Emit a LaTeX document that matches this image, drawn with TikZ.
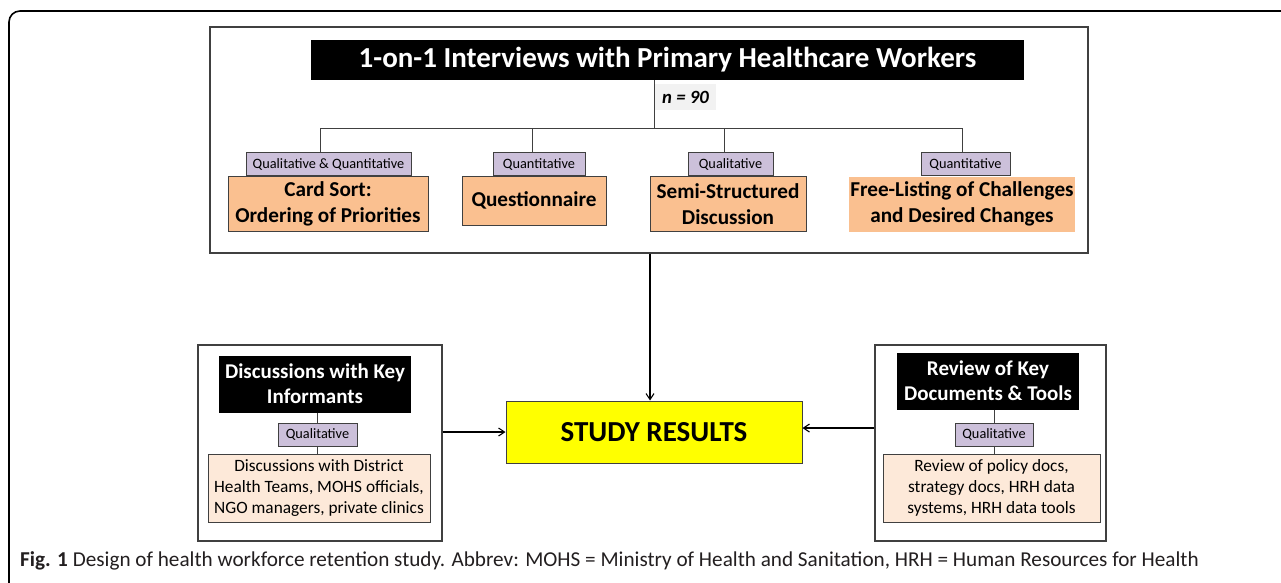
\documentclass[tikz,border=0pt]{standalone}
\usepackage{fontspec}
\setmainfont{Carlito}
\usetikzlibrary{arrows.meta}
\definecolor{tagfill}{HTML}{CCC0DA}
\definecolor{orangefill}{HTML}{FAC090}
\definecolor{peachfill}{HTML}{FDE9D9}
\definecolor{resultfill}{HTML}{FFFF00}
\definecolor{linegray}{HTML}{404040}
\definecolor{nfill}{HTML}{F2F2F2}
\definecolor{captext}{HTML}{231F20}
\newcommand{\fsz}[1]{\fontsize{#1pt}{1.2\dimexpr#1pt\relax}\selectfont}
\tikzset{
  x=1pt, y=-1pt,
  frame/.style={draw=linegray, line width=1.1pt, fill=white},
  headbox/.style={fill=black, text=white, font=\fsz{21}\bfseries, align=center, inner sep=0pt},
  tagbox/.style={draw=linegray, line width=0.9pt, fill=tagfill, font=\fsz{14.3}, inner sep=0pt, minimum height=23pt},
  methodbox/.style={draw=linegray, line width=0.9pt, fill=orangefill, font=\fsz{21.2}\bfseries, align=center, inner sep=0pt},
  notebox/.style={draw=linegray, line width=0.9pt, fill=peachfill, font=\fsz{17.3}, align=center, inner sep=0pt},
  link/.style={draw=linegray, line width=0.9pt},
  feed/.style={draw=black, line width=1.1pt, -{Straight Barb[length=6pt,width=8pt]}},
}
\begin{document}
\begin{tikzpicture}
\useasboundingbox (0,0) rectangle (1281,582);
\fill[white] (0,0) rectangle (1281,582);

% page frame, open to the right and below
\draw[line width=1.6pt, rounded corners=11pt] (9,600) -- (9,11) -- (1300,11);

% ---- interview block ----
\node[frame, minimum width=878pt, minimum height=226pt, inner sep=0pt] (top) at (649,140) {};
\node[headbox, minimum width=713pt, minimum height=40pt, font=\fsz{29}\bfseries] (title) at (667.5,60) {1-on-1 Interviews with Primary Healthcare Workers};
\coordinate (hub) at (654,128);
\node[fill=nfill, minimum width=61pt, minimum height=26pt, inner sep=0pt, font=\fsz{18.7}\bfseries\itshape] (n) at (685.5,97) {n = 90};

\node[tagbox, minimum width=165pt] (tag1) at (328.5,164) {Qualitative \& Quantitative};
\node[tagbox, minimum width=92pt]  (tag2) at (539,164) {Quantitative};
\node[tagbox, minimum width=85pt]  (tag3) at (730.5,164) {Qualitative};
\node[tagbox, minimum width=89pt]  (tag4) at (965.5,164) {Quantitative};

\node[methodbox, minimum width=200pt, minimum height=55pt] (m1) at (328,204) {Card Sort:\\Ordering of Priorities};
\node[methodbox, minimum width=144pt, minimum height=49pt] (m2) at (534,200.5) {Questionnaire};
\node[methodbox, minimum width=156pt, minimum height=55pt] (m3) at (728,204) {Semi-Structured\\Discussion};
\node[methodbox, draw=none, minimum width=226pt, minimum height=55pt] (m4) at (962,204) {Free-Listing of Challenges\\and Desired Changes};

% tree from the title down to the four methods
\coordinate (b1) at (320,128);
\coordinate (b2) at (532,128);
\coordinate (b3) at (724,128);
\coordinate (b4) at (962,128);
\draw[link] (title.south -| hub) -- (hub);
\draw[link] (b1) -- (b4);
\draw[link] (b1) -- (b1 |- tag1.north);
\draw[link] (b2) -- (b2 |- tag2.north);
\draw[link] (b3) -- (b3 |- tag3.north);
\draw[link] (b4) -- (b4 |- tag4.north);

% ---- results ----
\node[draw=linegray, line width=1pt, fill=resultfill, minimum width=296pt, minimum height=62pt, inner sep=0pt, font=\fsz{29}\bfseries] (sr) at (654,432) {STUDY RESULTS};

% ---- key informants ----
\node[frame, minimum width=244pt, minimum height=196pt, inner sep=0pt] (lbox) at (320,443) {};
\node[headbox, minimum width=192pt, minimum height=57pt] (lhead) at (315,384) {Discussions with Key\\Informants};
\node[tagbox, minimum width=79pt] (ltag) at (317.5,434.5) {Qualitative};
\node[notebox, minimum width=222pt, minimum height=68pt] (lnote) at (319,488) {Discussions with District\\Health Teams, MOHS officials,\\NGO managers, private clinics};
\draw[link] (lhead.south -| ltag.north) -- (ltag.north);
\draw[link] (ltag.south) -- (ltag.south |- lnote.north);

% ---- document review ----
\node[frame, minimum width=231pt, minimum height=196pt, inner sep=0pt] (rbox) at (990.5,443) {};
\node[headbox, minimum width=182pt, minimum height=57pt] (rhead) at (988,381) {Review of Key\\Documents \& Tools};
\node[tagbox, minimum width=78pt] (rtag) at (994,434.5) {Qualitative};
\node[notebox, minimum width=217pt, minimum height=68pt] (rnote) at (991.5,488) {Review of policy docs,\\strategy docs, HRH data\\systems, HRH data tools};
\draw[link] (rhead.south -| rtag.north) -- (rtag.north);
\draw[link] (rtag.south) -- (rtag.south |- rnote.north);

% ---- feeds into the results ----
\draw[feed] (top.south -| 650,0) -- (sr.north -| 650,0);
\draw[feed] (lbox.east |- sr.west) -- (sr.west);
\draw[feed] (rbox.west |- 0,428) -- (sr.east |- 0,428);

% ---- caption ----
\node[anchor=base west, inner sep=0pt, text=captext, font=\fsz{21.2}] (cap) at (20,566)
  {\textbf{Fig. 1} Design of health workforce retention study. Abbrev: MOHS = Ministry of Health and Sanitation, HRH = Human Resources for Health};
\end{tikzpicture}
\end{document}
